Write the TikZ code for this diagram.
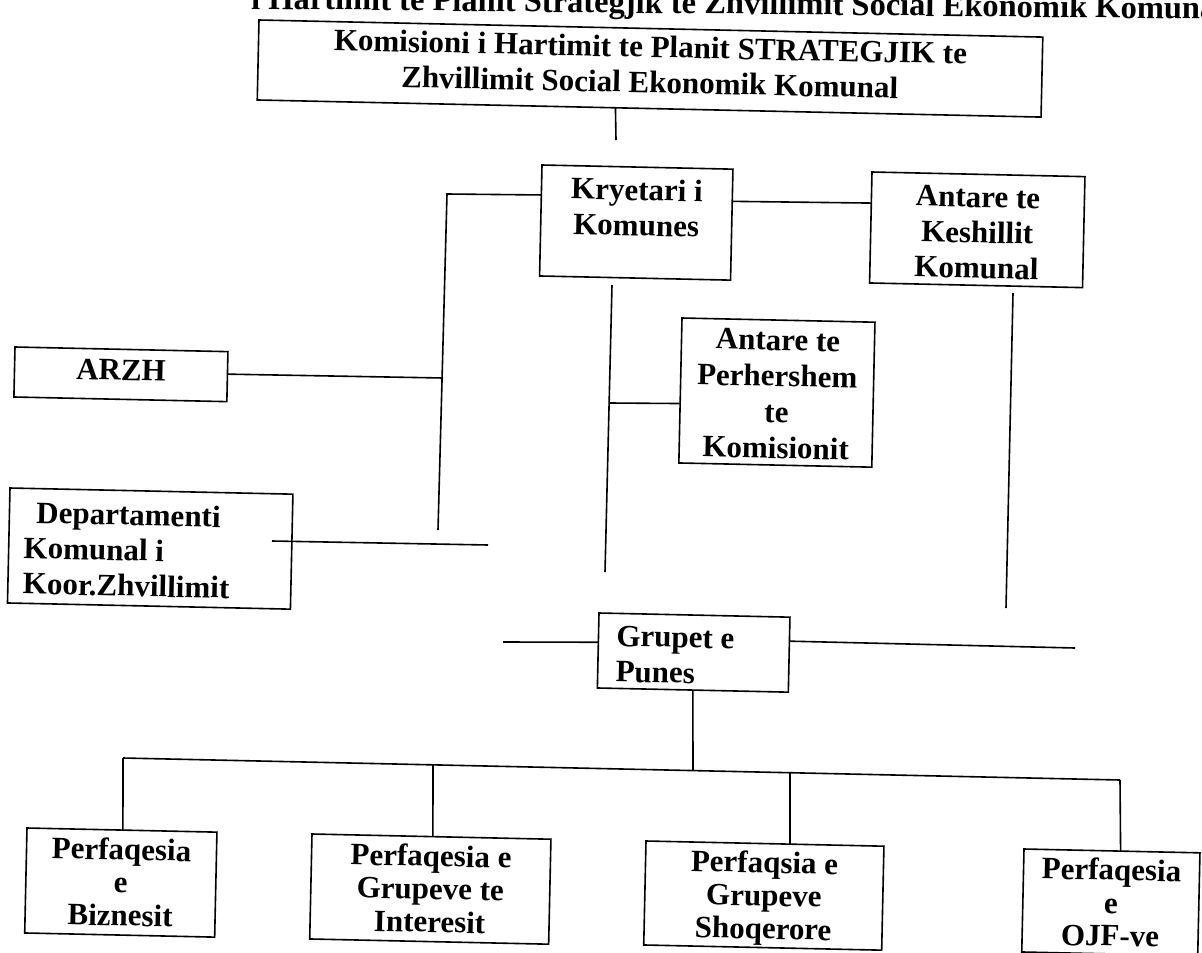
\documentclass[tikz,border=0pt]{standalone}
\usepackage{fontspec}
\setmainfont{Liberation Serif}
\usetikzlibrary{calc}
\newcommand\bxc[4]{\parbox[c][#2pt][t]{#1pt}{\centering\vspace*{#3pt}\rule{0pt}{22pt}#4\par}}
\newcommand\bxl[4]{\parbox[c][#2pt][t]{#1pt}{\raggedright\vspace*{#3pt}\rule{0pt}{22pt}#4\par}}
\tikzset{
  bx/.style={draw, line width=1.6pt, inner sep=0pt, outer sep=0pt, anchor=north west,
    rotate=-1.25, font=\bfseries\fontsize{31}{35.5}\selectfont},
  bxs/.style={bx, font=\bfseries\fontsize{31}{33}\selectfont},
  ln/.style={line width=1.6pt}
}
\begin{document}
\begin{tikzpicture}[x=1pt,y=-1pt]
\clip (0,0) rectangle (1202,953);
\fill[white] (0,0) rectangle (1202,953);
% clipped heading line
\node[anchor=base west, inner sep=0pt, rotate=-0.6, font=\bfseries\fontsize{32.5}{36}\selectfont] (head) at (251,9)
  {i Hartimit te Planit Strategjik te Zhvillimit Social Ekonomik Komunal};
% boxes
\node[bx] (top) at (259,20) {\bxc{784}{80}{6.75}{Komisioni i Hartimit te Planit STRATEGJIK te\\Zhvillimit Social Ekonomik Komunal}};
\node[bx] (kry) at (542,165) {\bxc{191}{111}{11.25}{Kryetari i\\Komunes}};
\node[bx] (kesh) at (872,172) {\bxc{213}{111}{11}{Antare te\\Keshillit\\Komunal}};
\node[bx] (perh) at (682,318) {\bxc{193}{145}{8.25}{\fontsize{31}{36}\selectfont Antare te\\Perhershem\\te\\Komisionit}};
\node[bx] (arzh) at (15,347) {\bxc{213}{50}{9}{ARZH}};
\node[bx] (dept) at (10,488) {\bxl{283}{115}{12.6}{\hspace*{27pt}Departamenti\\\hspace*{15pt}Komunal i\\\hspace*{15pt}Koor.Zhvillimit}};
\node[bx] (grp) at (599,613) {\bxl{191}{75}{10.75}{\hspace*{18pt}Grupet e\\\hspace*{18pt}Punes}};
\node[bxs] (b1) at (27,828) {\bxc{190}{105}{7.75}{Perfaqesia\\e\\Biznesit}};
\node[bxs] (b2) at (312,834) {\bxc{239}{105}{7.75}{Perfaqesia e\\Grupeve te\\Interesit}};
\node[bxs] (b3) at (646,841) {\bxc{238}{104}{7.25}{Perfaqsia e\\Grupeve\\Shoqerore}};
\node[bxs] (b4) at (1024,849) {\bxc{176}{103}{7.25}{Perfaqesia\\e\\OJF-ve}};
% coordinates
\coordinate (tE) at (616,140);
\coordinate (vA) at (447,194);
\coordinate (vB) at (438,530);
\coordinate (jA) at (443,378);
\coordinate (dS) at (272,541);
\coordinate (dE) at (488,545);
\coordinate (kA) at (1013,293);
\coordinate (kB) at (1006,608);
\coordinate (pA) at (612,285);
\coordinate (pB) at (605,572);
\coordinate (jP) at (610,403);
\coordinate (gL) at (503,642);
\coordinate (gR) at (1075,648);
\coordinate (busL) at (123,758);
\coordinate (busR) at (1120,780);
\coordinate (d2) at (433,764.8);
\coordinate (d3) at (790,772.7);
\coordinate (gB) at (693,770.6);
% connectors
\draw[ln] ($(top.south west)!0.457!(top.south east)$) -- (tE);
\draw[ln] ($(kry.north west)!0.27!(kry.south west)$) -- (vA) -- (vB);
\draw[ln] ($(arzh.north east)!0.45!(arzh.south east)$) -- (jA);
\draw[ln] (dS) -- (dE);
\draw[ln] ($(kry.north east)!0.29!(kry.south east)$) -- ($(kesh.north west)!0.28!(kesh.south west)$);
\draw[ln] (kA) -- (kB);
\draw[ln] (pA) -- (pB);
\draw[ln] (jP) -- ($(perh.north west)!0.59!(perh.south west)$);
\draw[ln] (gL) -- ($(grp.north west)!0.39!(grp.south west)$);
\draw[ln] ($(grp.north east)!0.32!(grp.south east)$) -- (gR);
\draw[ln] (busL) -- (busR);
\draw[ln] ($(grp.south west)!0.5!(grp.south east)$) -- (gB);
\draw[ln] (busL) -- ($(b1.north west)!0.505!(b1.north east)$);
\draw[ln] (d2) -- ($(b2.north west)!0.506!(b2.north east)$);
\draw[ln] (d3) -- ($(b3.north west)!0.605!(b3.north east)$);
\draw[ln] (busR) -- ($(b4.north west)!0.549!(b4.north east)$);
\end{tikzpicture}
\end{document}
